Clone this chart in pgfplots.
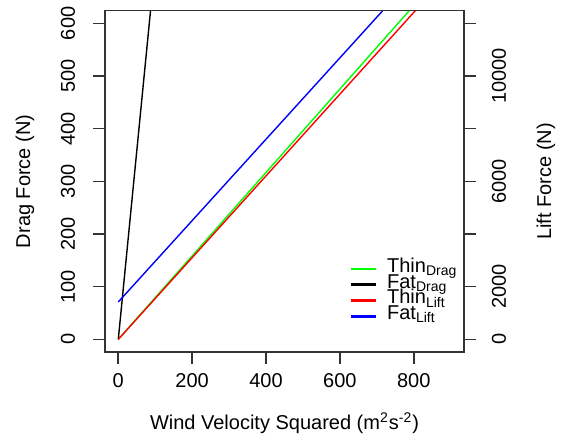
\documentclass[border=0pt]{standalone}
\usepackage{fontspec}
\setmainfont{Liberation Sans}
\usepackage{pgfplots}
\pgfplotsset{compat=1.18}
\usetikzlibrary{calc}
\definecolor{rgreen}{HTML}{00FF00}
\definecolor{rred}{HTML}{FF0000}
\definecolor{rblue}{HTML}{0000FF}

\pgfplotsset{
  rstyle/.style={
    scale only axis, width=179.5pt, height=170.65pt,
    xmin=-36, xmax=936,
    axis line style={black!80, line width=0.8pt},
    tick align=outside, major tick length=6pt,
    every tick/.style={black!80, line width=0.8pt},
    /pgf/number format/assume math mode=true,
    /pgf/number format/1000 sep={},
    scaled ticks=false,
    clip=true,
  },
}

\begin{document}
\begin{tikzpicture}[font=\fontsize{10}{12}\selectfont]
% left axis: drag force
\begin{axis}[rstyle, name=ax,
  ymin=-24, ymax=624,
  xtick={0,200,400,600,800}, ytick={0,100,200,300,400,500,600},
  tick pos=left,
  yticklabel style={rotate=90, anchor=center, yshift=12.5pt},
  xticklabel style={anchor=center, yshift=-8.5pt},
  xlabel={Wind Velocity Squared (m\textsuperscript{2}s\textsuperscript{-2})},
  ylabel={Drag Force (N)},
  xlabel style={at={(rel axis cs:0.5,0)}, anchor=center, yshift=-35.5pt},
  ylabel style={at={(rel axis cs:0,0.5)}, anchor=center, yshift=40pt},
]
\addplot[rgreen, line width=0.7pt] coordinates {(0,0) (900,713)};
\addplot[black, line width=0.7pt] coordinates {(0,0) (900,6435)};
\end{axis}
% right axis: lift force
\begin{axis}[rstyle,
  ymin=-480, ymax=12480,
  axis x line=none, axis y line*=right,
  ytick={0,2000,4000,6000,8000,10000,12000},
  yticklabels={0,2000,,6000,,10000,},
  yticklabel style={rotate=90, anchor=center, yshift=-11.5pt},
  ylabel={Lift Force (N)},
  ylabel style={at={(rel axis cs:1,0.5)}, anchor=center, yshift=-41pt},
  legend style={draw=none, fill=none, at={(rel axis cs:0.68,0.174)}, anchor=west,
    inner sep=0pt, row sep=0pt, column sep=5pt,
    nodes={inner sep=0pt, anchor=west, text height=5.6pt, text depth=2.3pt}},
  legend cell align=left,
  legend image code/.code={\draw[#1, line width=1.3pt] (0pt,0pt) -- (12.5pt,0pt);},
]
\addlegendimage{rgreen}
\addlegendentry{Thin\textsubscript{Drag}}
\addlegendimage{black}
\addlegendentry{Fat\textsubscript{Drag}}
\addplot[rred, line width=0.7pt] coordinates {(0,0) (900,13968)};
\addlegendentry{Thin\textsubscript{Lift}}
\addplot[rblue, line width=0.7pt] coordinates {(0,1420) (900,15325)};
\addlegendentry{Fat\textsubscript{Lift}}
\end{axis}
\draw[black!80, line width=0.8pt] (ax.south west) rectangle (ax.north east);
\path ($(ax.south west)+(-52.5pt,-46.35pt)$) rectangle ($(ax.north east)+(49.5pt,4pt)$);
\end{tikzpicture}
\end{document}
